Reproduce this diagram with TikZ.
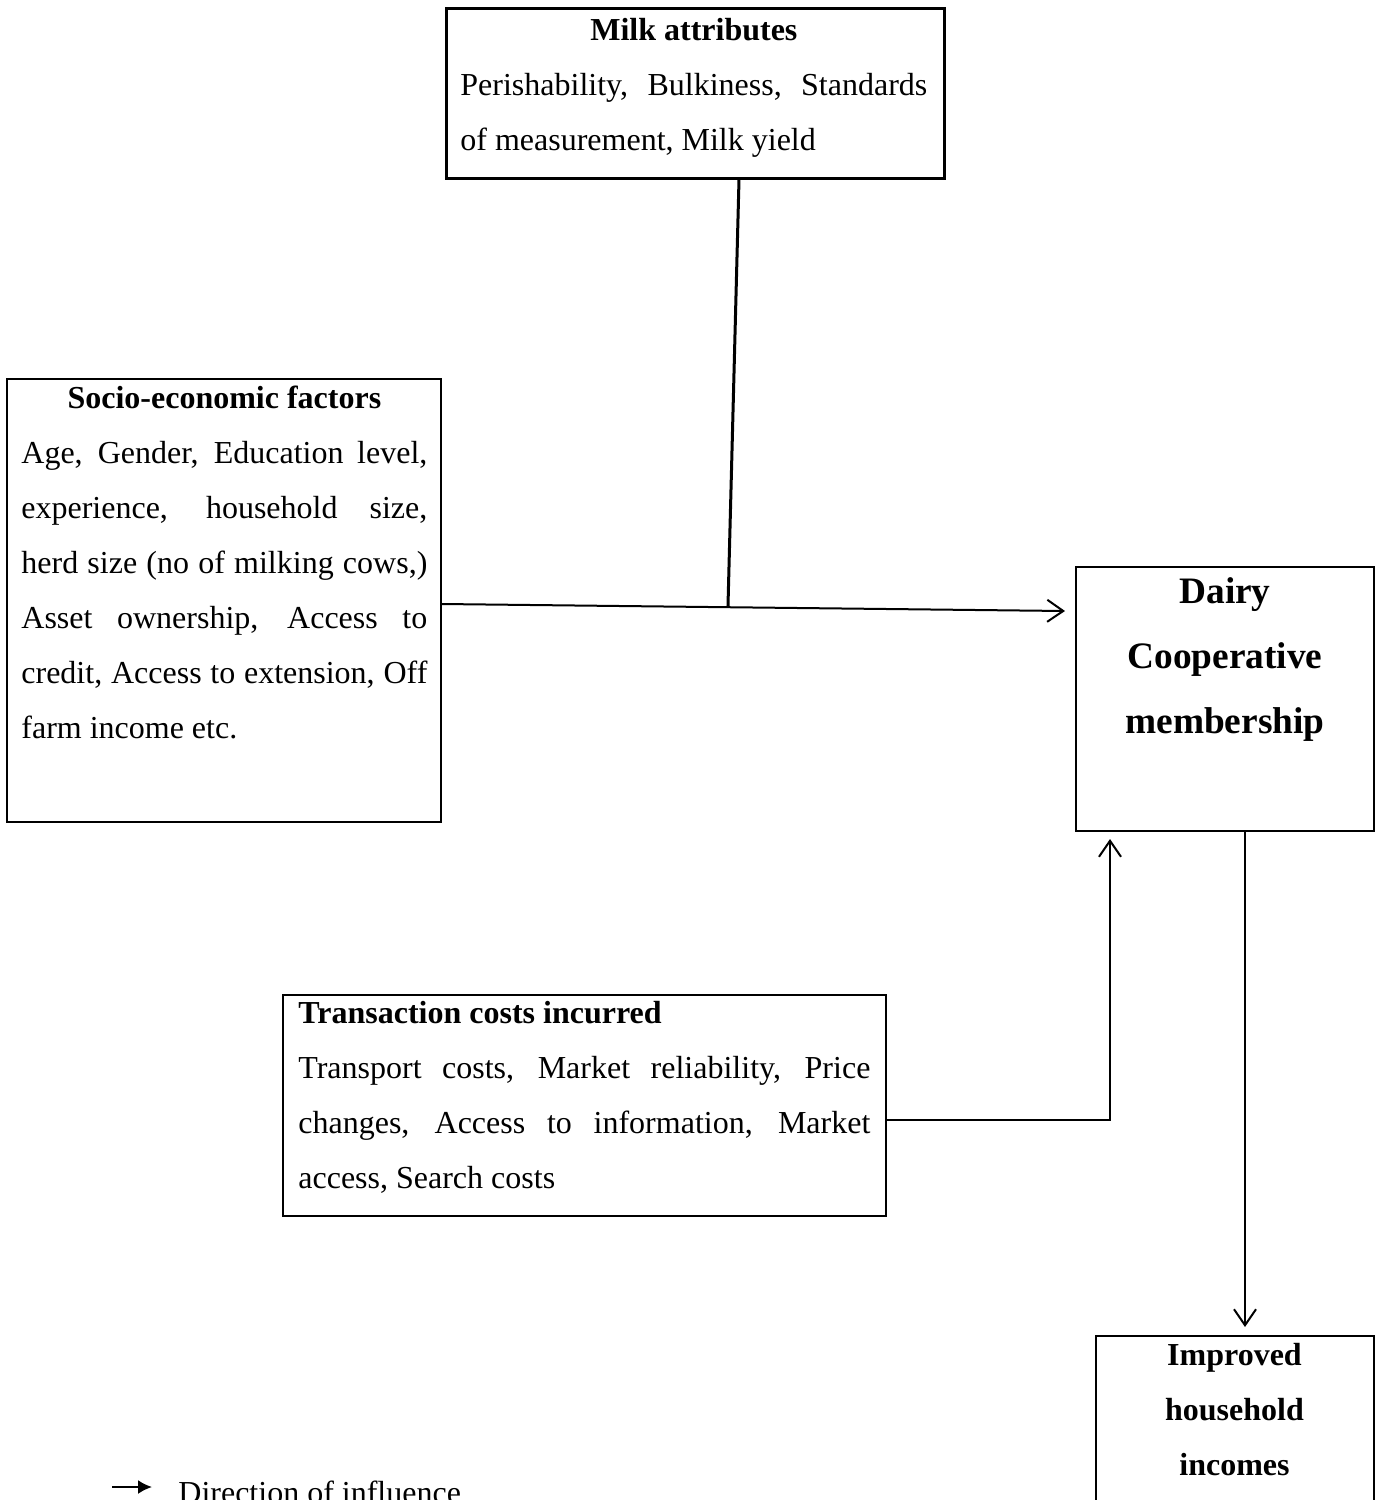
\documentclass[tikz,border=0pt]{standalone}
\usepackage{fontspec}
\setmainfont{Liberation Serif}
\usetikzlibrary{arrows.meta,fit,calc}

\tolerance=10000
\hbadness=10000
\hyphenpenalty=10000
\newcommand{\topstrut}{\leavevmode\vrule height20pt depth0pt width0pt\relax}

\begin{document}
\begin{tikzpicture}[x=0.5pt,y=-0.5pt,
    box/.style={draw, line width=1pt, inner sep=0pt},
    txt/.style={anchor=north west, inner sep=0pt, font=\fontsize{16}{27.5}\selectfont},
    head/.style={anchor=north, inner sep=0pt, align=center, text width=150pt},
    link/.style={line width=1pt, -{Straight Barb[length=8pt,width=11pt,line width=1pt]}}]
    \useasboundingbox (0,0) rectangle (1380,1500);
    % Kaesten
    \node[box, line width=1.5pt, fit={(446,8) (944,178)}] (milk) {};
    \node[box, fit={(7,379) (441,822)}] (socio) {};
    \node[box, fit={(1076,567) (1374,831)}] (dairy) {};
    \node[box, fit={(283,995) (886,1216)}] (trans) {};
    \node[box, fit={(1096,1336) (1374,1504)}] (income) {};
    % Texte
    \node[txt] (milktext) at (460,0)
      {\parbox[t]{233.5pt}{\topstrut{\centering\bfseries Milk attributes\par}
       Perishability, Bulkiness, Standards\linebreak of measurement, Milk yield}};
    \node[txt] (sociotext) at (21,368)
      {\parbox[t]{203pt}{\topstrut{\centering\bfseries Socio-economic factors\par}
       Age, Gender, Education level,\linebreak experience, household size,\linebreak
       herd size (no of milking cows,)\linebreak Asset ownership, Access to\linebreak
       credit, Access to extension, Off\linebreak farm income etc.}};
    \node[txt] (transtext) at (298,983)
      {\parbox[t]{286pt}{\topstrut\textbf{Transaction costs incurred}\par
       Transport costs, Market reliability, Price\linebreak
       changes, Access to information, Market\linebreak access, Search costs}};
    \node[head, font=\fontsize{18.67}{32.5}\selectfont\bfseries] (dairytext) at (1225,563)
      {\topstrut Dairy\\Cooperative\\membership};
    \node[head, font=\fontsize{16}{27.5}\selectfont\bfseries] (incometext) at (1234.5,1325)
      {\topstrut Improved\\household\\incomes};
    % Einfluss
    \draw[link] ([yshift=-1.75pt]socio.east) -- coordinate[pos=0.459] (join)
      ([xshift=-5pt,yshift=44pt]dairy.west);
    \draw[line width=1.5pt] ([xshift=22pt]milk.south) -- (join);
    \draw[link] ([yshift=-7.25pt]trans.east) -| ([xshift=17.5pt,yshift=-3.5pt]dairy.south west);
    \draw[link, shorten >=4pt] ([xshift=10pt]dairy.south) coordinate (dd) -- (dd |- income.north);
    % Legende
    \coordinate (legA) at (112,1487);
    \coordinate (legB) at (152,1487);
    \draw[line width=1pt, -{Latex[length=7pt,width=7pt]}] (legA) -- (legB);
    \node[anchor=base west, inner sep=0pt, font=\fontsize{16}{27.5}\selectfont] (legend) at (178,1503)
      {Direction of influence};
\end{tikzpicture}
\end{document}
